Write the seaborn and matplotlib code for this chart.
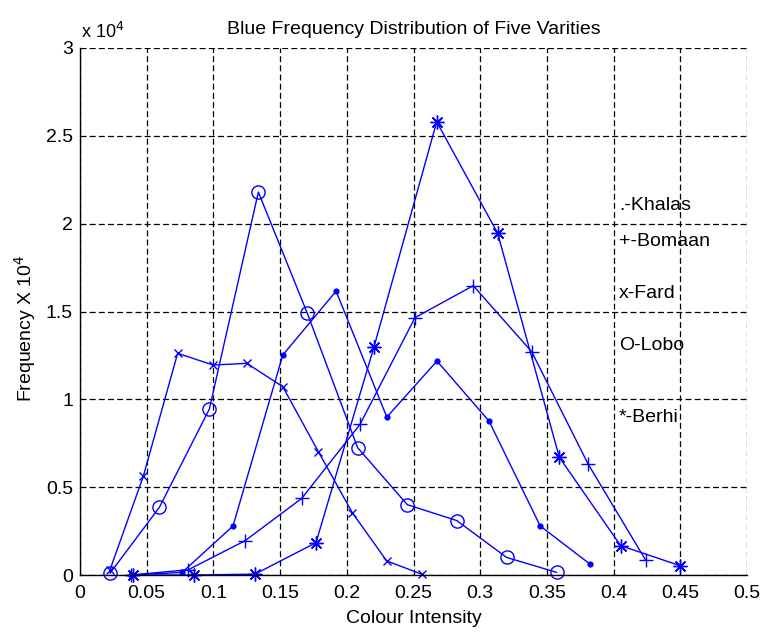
import matplotlib
matplotlib.use("Agg")
import matplotlib.pyplot as plt
import seaborn as sns
import numpy as np
import pandas as pd

# ---- data ----
khalas_x = [0.0383, 0.0766, 0.1147, 0.152, 0.192, 0.230, 0.2676, 0.3066, 0.345, 0.3823]
khalas_y = [0, 150, 2790, 12520, 16160, 8990, 12180, 8765, 2790, 620]

bomaan_x = [0.0382, 0.0812, 0.1237, 0.1662, 0.2099, 0.2511, 0.2948, 0.3386, 0.381, 0.424]
bomaan_y = [0, 300, 1950, 4360, 8575, 14650, 16470, 12710, 6300, 850]

fard_x = [0.0225, 0.0475, 0.0732, 0.0999, 0.125, 0.152, 0.1787, 0.2041, 0.2299, 0.2561]
fard_y = [300, 5630, 12620, 11950, 12050, 10720, 7020, 3550, 800, 50]

lobo_x = [0.0225, 0.0595, 0.097, 0.1337, 0.1704, 0.2081, 0.2454, 0.2824, 0.3198, 0.3573]
lobo_y = [100, 3850, 9450, 21800, 14900, 7250, 4000, 3100, 1000, 150]

berhi_x = [0.040, 0.0857, 0.1312, 0.1769, 0.2204, 0.2674, 0.3131, 0.3593, 0.4053, 0.4498]
berhi_y = [0, 0, 50, 1840, 12990, 25800, 19450, 6700, 1670, 530]

legend_labels = [".-Khalas", "+-Bomaan", "x-Fard", "O-Lobo", "*-Berhi"]
legend_y = [2.106, 1.897, 1.603, 1.309, 0.898]

x_ticks = [0, 0.05, 0.1, 0.15, 0.2, 0.25, 0.3, 0.35, 0.4, 0.45, 0.5]
x_ticklabels = ["0", "0.05", "0.1", "0.15", "0.2", "0.25", "0.3", "0.35", "0.4", "0.45", "0.5"]
y_ticks = [0, 0.5, 1, 1.5, 2, 2.5, 3]
y_ticklabels = ["0", "0.5", "1", "1.5", "2", "2.5", "3"]
SCALE = 1e4

sns.set_style("white")
plt.rcParams['font.family'] = ['Liberation Sans', 'DejaVu Sans']
plt.rcParams['lines.scale_dashes'] = False
plt.rcParams['text.color'] = 'black'
plt.rcParams['axes.labelcolor'] = 'black'
plt.rcParams['xtick.color'] = 'black'
plt.rcParams['ytick.color'] = 'black'

fig = plt.figure(figsize=(7.61, 6.33), dpi=100)
ax = fig.add_axes([80/761, 58/633, 667/761, 527/633])

blue = (0, 0, 1)
series = [
    (khalas_x, khalas_y, dict(marker='o', markersize=4.5, mfc=blue, mec=blue, mew=0)),
    (bomaan_x, bomaan_y, dict(marker='+', markersize=10, mec=blue, mew=1.0)),
    (fard_x, fard_y, dict(marker='x', markersize=6, mec=blue, mew=1.0)),
    (lobo_x, lobo_y, dict(marker='o', markersize=9.5, mfc='none', mec=blue, mew=1.0)),
    (berhi_x, berhi_y, dict(marker=(8, 2, 0), markersize=10, mec=blue, mew=1.0)),
]
for xs, ys, kw in series:
    df = pd.DataFrame({"x": xs, "y": np.array(ys) / SCALE})
    sns.lineplot(data=df, x="x", y="y", color=blue, linewidth=1.0, ax=ax,
                 sort=False, estimator=None, clip_on=False, **kw)

ax.set_xlim(0, 0.5)
ax.set_ylim(0, 3)
ax.set_xticks(x_ticks)
ax.set_xticklabels(x_ticklabels)
ax.set_yticks(y_ticks)
ax.set_yticklabels(y_ticklabels)
ax.tick_params(direction='in', length=4, width=0.8, labelsize=14, colors='black')
ax.tick_params(axis='x', pad=7)
ax.tick_params(axis='y', pad=5)

ax.grid(True, color='black', linestyle=(0, (4.3, 2.3)), linewidth=0.9)
for s in ['top', 'right']:
    ax.spines[s].set_visible(False)
for s in ['left', 'bottom']:
    ax.spines[s].set_color('black')
    ax.spines[s].set_linewidth(1.0)
    ax.spines[s].set_zorder(5)

ax.set_xlabel("Colour Intensity", fontsize=14, labelpad=6)
ax.set_ylabel("Frequency X 10$^4$", fontsize=14)
ax.yaxis.set_label_coords(-0.063, 0.469)
ax.set_title("Blue Frequency Distribution of Five Varities", fontsize=14, pad=10)
ax.text(0.002, 1.012, "x 10$^4$", transform=ax.transAxes, fontsize=13, ha='left', va='bottom')

for lab, yy in zip(legend_labels, legend_y):
    ax.text(0.404, yy, lab, fontsize=14, ha='left', va='center')

fig.savefig("out.png", dpi=100)
